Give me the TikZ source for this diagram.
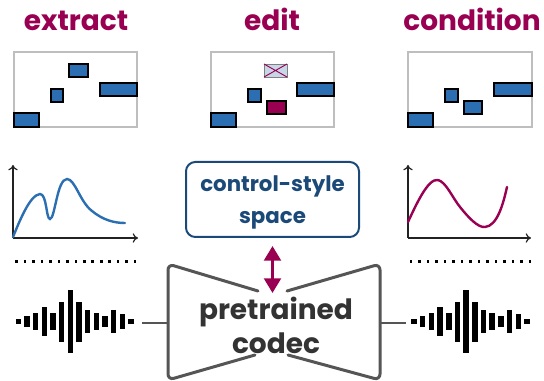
\documentclass[tikz,border=0pt]{standalone}
\usepackage{fontspec}
\setmainfont{Poppins}
\usetikzlibrary{arrows.meta}
\definecolor{mag}{RGB}{153,0,82}
\definecolor{rblue}{RGB}{43,111,178}
\definecolor{dblue}{RGB}{28,74,120}
\definecolor{cgray}{RGB}{85,85,85}
\definecolor{tgray}{RGB}{51,51,51}
\definecolor{pgray}{RGB}{190,190,190}
\definecolor{xfill}{RGB}{200,215,232}
\definecolor{axgray}{RGB}{34,34,34}
\begin{document}
\begin{tikzpicture}[x=0.75pt,y=-0.75pt,
  title/.style={anchor=base, text=mag, inner sep=0pt, font=\fontsize{21}{25}\selectfont\bfseries},
  panel/.style={draw=pgray, line width=0.9pt},
  note/.style={fill=rblue, draw=black, line width=0.8pt},
  editnote/.style={fill=mag, draw=black, line width=0.8pt},
  ghost/.style={fill=xfill, draw=gray, line width=0.6pt},
  axis/.style={draw=axgray, line width=0.9pt, -{To[length=4pt,width=7pt]}},
  curveA/.style={draw=rblue, line width=1.8pt, line cap=round},
  curveB/.style={draw=mag, line width=1.8pt, line cap=round},
  csbox/.style={draw=dblue, line width=1.5pt, rounded corners=7pt, minimum width=129.75pt, minimum height=56.25pt, inner sep=0pt, text=dblue, align=center, text depth=0pt, font=\fontsize{16}{24}\selectfont\bfseries},
  codectext/.style={text=tgray, align=center, inner sep=0pt, font=\fontsize{21}{25.5}\selectfont\bfseries},
  codecline/.style={draw=cgray, line width=2.25pt, rounded corners=4.5pt, line cap=round},
  conn/.style={draw=cgray, line width=0.8pt},
  darrow/.style={draw=mag, line width=2.4pt, {Triangle[length=11pt,width=12.5pt]}-{Triangle[length=11pt,width=12.5pt]}},
  bar/.style={fill=black},
  dot/.style={fill=black}
]
\useasboundingbox (0,0) rectangle (544,381);

% titles
\node[title] (t1) at (76,31) {extract};
\node[title] (t2) at (272,31) {edit};
\node[title] (t3) at (472,31) {condition};

% panel 1
\draw[panel] (14,52) rectangle (137,127);
\draw[note] (14,113) rectangle (39,127);
\draw[note] (51,89) rectangle (63,102);
\draw[note] (69,64) rectangle (88,77);
\draw[note] (100,83) rectangle (137,96);

% panel 2
\draw[panel] (211,52) rectangle (334,127);
\draw[ghost] (264,64) rectangle (287,77);
\draw[draw=mag, line width=0.7pt] (264,64) -- (287,77) (264,77) -- (287,64);
\draw[note] (211,113) rectangle (236,127);
\draw[note] (248,89) rectangle (261,102);
\draw[editnote] (267,101) rectangle (286,114);
\draw[note] (297,83) rectangle (334,96);

% panel 3
\draw[panel] (408,52) rectangle (532,127);
\draw[note] (408,113) rectangle (433,127);
\draw[note] (445,89) rectangle (458,102);
\draw[note] (464,101) rectangle (482,114);
\draw[note] (494,83) rectangle (532,96);

% left plot
\draw[axis] (13,238) -- (13,165);
\draw[axis] (13,238) -- (138,238);
\draw[curveA] (13,237) .. controls (20,220) and (30,195) .. (40,194)
  .. controls (47,194) and (46,219) .. (50,219)
  .. controls (55,219) and (57,179) .. (67,179)
  .. controls (75,179) and (80,202) .. (92,211)
  .. controls (103,220) and (114,223) .. (125,223);

% right plot
\draw[axis] (408,238) -- (408,165);
\draw[axis] (408,238) -- (531,238);
\draw[curveB] (408,222) .. controls (416,205) and (428,178) .. (438,180)
  .. controls (446,182) and (452,197) .. (460,207)
  .. controls (468,217) and (478,228) .. (485,227)
  .. controls (497,226) and (503,205) .. (507,187);

% dots
\foreach \i in {0,...,14} {
  \fill[dot] (16.7+8.45*\i-1.3,260) rectangle ++(2.6,2.6);
  \fill[dot] (411+8.5*\i-1.3,260) rectangle ++(2.6,2.6);
}

% waveforms
\foreach \h [count=\i from 0] in {5.3,11,17,29,17,40,63,40,23,17,11,23,15,5.3} {
  \fill[bar] (18.3+8.67*\i-2.75,321.7-\h/2) rectangle ++(5.5,\h);
  \fill[bar] (414+8.69*\i-2.75,321.7-\h/2) rectangle ++(5.5,\h);
}
\coordinate (wlE) at (142,323);
\coordinate (wrW) at (406,323);

% control-style space
\node[csbox] (cs) at (272.5,199.5) {control-style\\space};

% codec
\draw[codecline] (258,291) -- (168,264) -- (168,380) -- (255,355);
\draw[codecline] (287,291) -- (380,264) -- (380,380) -- (288,355);
\node[codectext] (codec) at (276,325) {pretrained\\codec};
\coordinate (codecL) at (167,323);
\coordinate (codecR) at (381,323);
\coordinate (ctop) at (272.5,293);

\draw[conn] (wlE) -- (codecL);
\draw[conn] (codecR) -- (wrW);
\draw[darrow] ([yshift=-6pt]cs.south) -- (ctop);
\end{tikzpicture}
\end{document}
